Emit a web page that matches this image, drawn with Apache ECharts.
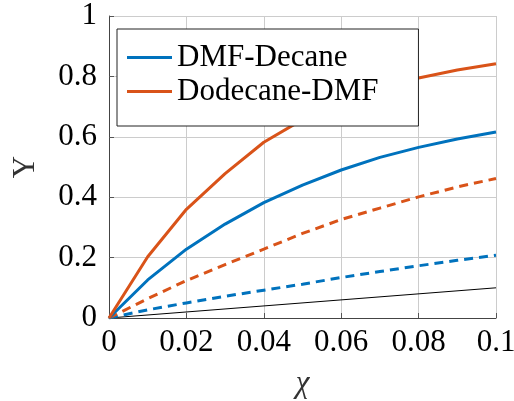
<!DOCTYPE html>
<html>
<head>
<meta charset="utf-8">
<script src="https://cdn.jsdelivr.net/npm/echarts@6/dist/echarts.min.js"></script>
<style>html,body{margin:0;padding:0;background:#fff}#c{width:514px;height:401px}</style>
</head>
<body>
<div id="c"></div>
<script>
const chi = [0, 0.01, 0.02, 0.03, 0.04, 0.05, 0.06, 0.07, 0.08, 0.09, 0.1];
const dmfDecane = [0, 0.126, 0.228, 0.311, 0.382, 0.440, 0.490, 0.532, 0.565, 0.593, 0.616];
const dodecaneDmf = [0, 0.203, 0.360, 0.478, 0.582, 0.657, 0.713, 0.757, 0.795, 0.821, 0.842];
const dmfDecaneDashed = [0, 0.027, 0.050, 0.072, 0.092, 0.112, 0.134, 0.154, 0.173, 0.191, 0.208];
const dodecaneDmfDashed = [0, 0.064, 0.124, 0.177, 0.228, 0.280, 0.326, 0.364, 0.401, 0.434, 0.462];
const refX = [0, 0.1];
const refY = [0, 0.1];
const xTicks = ['0', '0.02', '0.04', '0.06', '0.08', '0.1'];
const yTicks = ['0', '0.2', '0.4', '0.6', '0.8', '1'];

const BLUE = '#0072BD', ORANGE = '#D95319';
const FONT = 'Liberation Serif';
const pairs = (xs, ys) => xs.map((x, i) => [x, ys[i]]);
const fmt = (v) => (+v.toFixed(2)).toString();

const chart = echarts.init(document.getElementById('c'), null, {renderer: 'canvas'});
chart.setOption({
  animation: false,
  backgroundColor: '#fff',
  grid: {left: 109, right: 18, top: 16, bottom: 83, containLabel: false, outerBoundsMode: 'none'},
  legend: {
    data: ['DMF-Decane', 'Dodecane-DMF'],
    orient: 'vertical',
    left: 117, top: 29,
    padding: [13, 40, 19, 10],
    itemGap: 3,
    itemWidth: 45, itemHeight: 3,
    icon: 'rect',
    backgroundColor: '#fff',
    borderColor: '#222', borderWidth: 1,
    z: 10,
    textStyle: {fontFamily: FONT, fontSize: 31, color: '#000', lineHeight: 30}
  },
  xAxis: {
    type: 'value', min: 0, max: 0.1, interval: 0.02,
    name: 'χ', nameLocation: 'middle', nameGap: 50,
    nameTextStyle: {fontFamily: FONT, fontSize: 31, fontStyle: 'italic', color: '#333'},
    axisLine: {show: true, lineStyle: {color: '#444', width: 1}},
    axisTick: {show: true, inside: true, length: 5, lineStyle: {color: '#555'}},
    axisLabel: {margin: 9, fontFamily: FONT, fontSize: 31, color: '#000',
      formatter: (v) => { const i = Math.round(v / 0.02); return xTicks[i] !== undefined ? xTicks[i] : fmt(v); }},
    splitLine: {show: true, lineStyle: {color: '#cccccc', width: 1}}
  },
  yAxis: {
    type: 'value', min: 0, max: 1, interval: 0.2,
    name: 'Y', nameLocation: 'middle', nameGap: 68, nameRotate: 90,
    nameTextStyle: {fontFamily: FONT, fontSize: 31, color: '#333'},
    axisLine: {show: true, lineStyle: {color: '#444', width: 1}},
    axisTick: {show: true, inside: true, length: 5, lineStyle: {color: '#555'}},
    axisLabel: {margin: 12, fontFamily: FONT, fontSize: 31, color: '#000',
      formatter: (v) => { const i = Math.round(v / 0.2); return yTicks[i] !== undefined ? yTicks[i] : fmt(v); }},
    splitLine: {show: true, lineStyle: {color: '#cccccc', width: 1}}
  },
  series: [
    {name: 'ref', type: 'line', data: pairs(refX, refY), symbol: 'none',
     lineStyle: {color: '#000', width: 1}, itemStyle: {color: '#000'}, z: 2},
    {name: 'DMF-Decane dashed', type: 'line', data: pairs(chi, dmfDecaneDashed), symbol: 'none',
     lineStyle: {color: BLUE, width: 3, type: [9, 6]}, itemStyle: {color: BLUE}, z: 3},
    {name: 'Dodecane-DMF dashed', type: 'line', data: pairs(chi, dodecaneDmfDashed), symbol: 'none',
     lineStyle: {color: ORANGE, width: 3, type: [9, 6]}, itemStyle: {color: ORANGE}, z: 3},
    {name: 'DMF-Decane', type: 'line', data: pairs(chi, dmfDecane), symbol: 'none',
     lineStyle: {color: BLUE, width: 3}, itemStyle: {color: BLUE}, z: 4},
    {name: 'Dodecane-DMF', type: 'line', data: pairs(chi, dodecaneDmf), symbol: 'none',
     lineStyle: {color: ORANGE, width: 3}, itemStyle: {color: ORANGE}, z: 5}
  ]
});
</script>
</body>
</html>
